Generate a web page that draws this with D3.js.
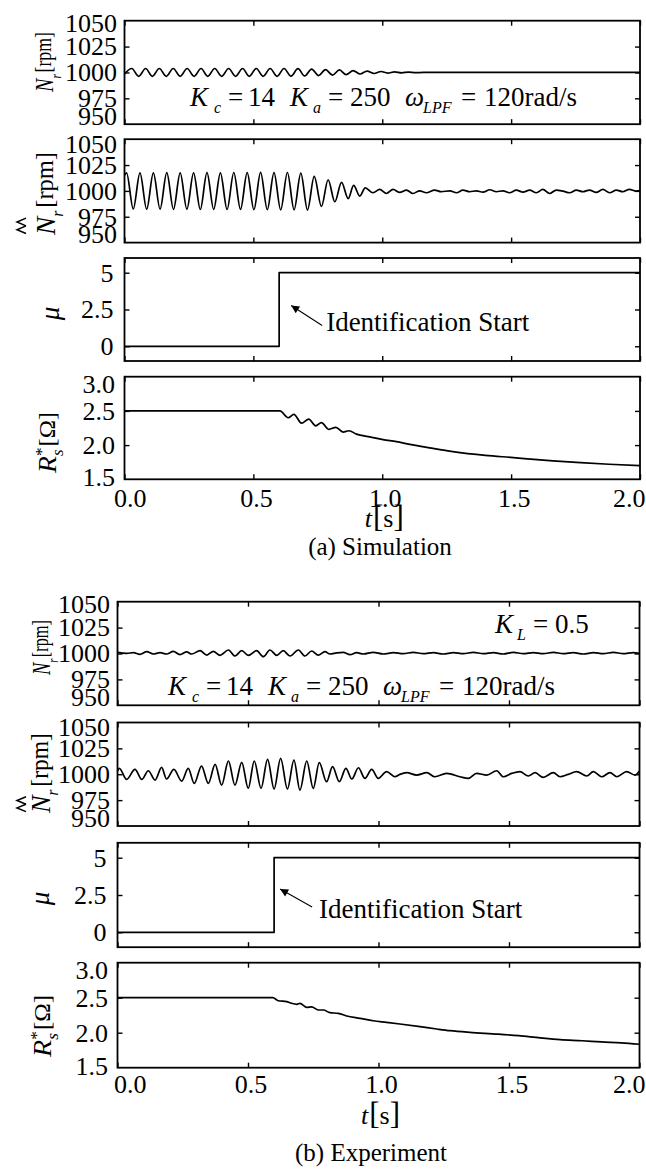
<!DOCTYPE html>
<html>
<head>
<meta charset="utf-8">
<script src="https://cdn.jsdelivr.net/npm/d3@7"></script>
<style>
  html, body { margin: 0; padding: 0; background: #fff; }
  svg, svg text { font-family: 'Liberation Serif', 'Times New Roman', Times, serif; }
  svg { display: block; }
</style>
</head>
<body>
<svg id="fig" width="646" height="1169" font-family="Liberation Serif, Times New Roman, serif"></svg>
<script>
// ---------- axis ticks ----------
const timeTicks = [0, 0.5, 1.0, 1.5, 2.0];
const timeTickLabels = ["0.0", "0.5", "1.0", "1.5", "2.0"];
const speedTicks = [950, 975, 1000, 1025, 1050];
const speedTickLabels = ["950", "975", "1000", "1025", "1050"];
const muTicks = [0, 2.5, 5];
const muTickLabels = ["0", "2.5", "5"];
const resTicks = [1.5, 2.0, 2.5, 3.0];
const resTickLabels = ["1.5", "2.0", "2.5", "3.0"];
const identStart = 0.6;

// ---------- (a) simulation ----------
// rotor speed N_r [rpm], [t, value]
const simSpeed = [[0.000,998.5],[0.028,1003.8],[0.055,996.3],[0.082,1003.8],[0.108,996.3],[0.135,1003.8],[0.162,996.3],[0.189,1003.8],[0.216,996.3],[0.243,1003.8],[0.270,996.3],[0.297,1003.8],[0.323,996.3],[0.350,1003.8],[0.377,996.3],[0.404,1003.8],[0.431,996.3],[0.458,1003.8],[0.484,996.3],[0.511,1003.8],[0.538,996.3],[0.565,1003.8],[0.592,996.3],[0.619,1003.8],[0.646,996.4],[0.673,1003.6],[0.699,996.6],[0.726,1003.3],[0.753,997.0],[0.780,1002.8],[0.807,997.4],[0.834,1002.4],[0.860,997.9],[0.887,1001.8],[0.914,998.5],[0.941,1001.3],[0.968,999.0],[0.995,1000.9],[1.021,999.4],[1.048,1000.6],[1.075,999.6],[1.102,1000.4],[1.129,999.8],[1.160,1000.0],[2.000,1000.0]];
// estimated speed
const simSpeedEst = [[0.000,1015.0],[0.008,1017.5],[0.034,982.5],[0.060,1017.5],[0.086,982.3],[0.112,1017.4],[0.138,982.4],[0.164,1017.6],[0.190,982.2],[0.216,1017.5],[0.242,982.3],[0.268,1017.4],[0.294,982.0],[0.320,1017.6],[0.346,982.2],[0.372,1017.5],[0.398,982.0],[0.424,1017.8],[0.450,982.1],[0.476,1017.6],[0.502,981.8],[0.528,1017.9],[0.554,981.9],[0.580,1017.7],[0.606,981.6],[0.632,1017.8],[0.658,981.7],[0.684,1017.2],[0.710,981.5],[0.736,1014.0],[0.764,985.0],[0.790,1010.8],[0.816,989.5],[0.842,1008.2],[0.868,992.6],[0.889,1005.4],[0.913,995.0],[0.934,1003.0],[0.964,998.2],[0.990,1001.4],[1.016,997.5],[1.042,1001.4],[1.068,998.5],[1.094,1000.8],[1.119,997.5],[1.145,1000.1],[1.171,998.2],[1.203,1000.8],[1.229,999.2],[1.262,1000.1],[1.288,998.2],[1.313,1000.8],[1.339,999.2],[1.365,1000.1],[1.391,998.8],[1.417,1001.1],[1.443,999.2],[1.468,1000.1],[1.494,998.2],[1.520,1000.8],[1.546,998.8],[1.572,1000.8],[1.598,998.2],[1.623,1001.4],[1.649,997.5],[1.675,1000.8],[1.701,999.8],[1.727,998.2],[1.753,1000.8],[1.778,999.2],[1.804,1000.8],[1.830,998.5],[1.856,1001.4],[1.882,998.2],[1.908,1000.8],[1.933,999.2],[1.959,1001.4],[1.985,999.8],[2.000,1000.3]];
// identification gain mu
const simMu = [[0,0],[0.6,0],[0.6,5],[2.0,5]];
// identified stator resistance R_s* [ohm]
const simRes = [[0,2.5],[0.603,2.5],[0.635,2.40],[0.657,2.45],[0.687,2.32],[0.715,2.38],[0.742,2.28],[0.764,2.33],[0.793,2.23],[0.820,2.26],[0.848,2.19],[0.871,2.21],[0.900,2.16],[0.952,2.12],[1.003,2.08],[1.055,2.05],[1.107,2.01],[1.145,1.985],[1.184,1.96],[1.274,1.905],[1.400,1.85],[1.498,1.82],[1.662,1.77],[1.880,1.72],[2.000,1.70]];

// ---------- (b) experiment ----------
const expSpeed = [[0.000,1001.1],[0.035,1000.2],[0.061,1000.8],[0.086,999.2],[0.112,1001.8],[0.137,999.5],[0.163,1000.8],[0.188,999.5],[0.214,1002.1],[0.239,998.9],[0.265,1001.5],[0.284,999.5],[0.316,1002.7],[0.342,998.5],[0.367,1002.1],[0.393,998.2],[0.425,1003.4],[0.450,997.6],[0.476,1002.7],[0.501,998.2],[0.533,1002.7],[0.559,996.9],[0.584,1003.4],[0.610,998.2],[0.635,1002.7],[0.661,997.6],[0.693,1003.4],[0.718,997.6],[0.744,1002.4],[0.769,998.5],[0.795,1001.8],[0.814,999.5],[0.840,1000.6],[0.865,1001.1],[0.891,998.9],[0.916,1000.8],[0.942,999.5],[0.980,1001.1],[1.018,999.5],[1.057,1000.8],[1.095,999.8],[1.133,1001.1],[1.172,999.8],[1.210,1000.8],[1.248,999.5],[1.287,1000.8],[1.325,999.8],[1.363,1001.1],[1.402,999.8],[1.440,1000.8],[1.478,999.5],[1.517,1001.1],[1.555,999.8],[1.593,1000.8],[1.631,999.8],[1.670,1001.1],[1.708,999.8],[1.746,1000.8],[1.785,999.5],[1.823,1000.8],[1.861,999.8],[1.900,1001.1],[1.938,999.8],[1.976,1000.8],[2.000,1000.2]];
const expSpeedEst = [[0.000,1003.0],[0.007,1005.7],[0.035,995.0],[0.067,1004.7],[0.093,995.0],[0.118,1003.4],[0.144,994.4],[0.169,1006.6],[0.188,995.4],[0.216,1004.7],[0.246,993.4],[0.271,1005.7],[0.294,991.2],[0.322,1007.9],[0.348,991.2],[0.374,1009.5],[0.399,989.5],[0.425,1012.8],[0.450,989.5],[0.476,1011.5],[0.501,986.3],[0.524,1012.8],[0.550,986.3],[0.575,1014.4],[0.600,985.7],[0.625,1015.4],[0.651,985.7],[0.676,1013.7],[0.699,984.7],[0.725,1012.8],[0.750,986.3],[0.773,1011.2],[0.801,992.8],[0.824,1007.3],[0.850,992.8],[0.875,1005.7],[0.898,995.4],[0.923,1006.3],[0.948,996.0],[0.974,1004.7],[0.999,996.0],[1.031,1002.5],[1.063,997.6],[1.082,999.9],[1.108,1001.5],[1.146,999.2],[1.185,1001.5],[1.216,997.6],[1.261,1000.8],[1.312,997.6],[1.344,996.0],[1.376,1000.8],[1.415,999.2],[1.453,1003.4],[1.478,997.6],[1.510,1000.8],[1.542,1002.5],[1.574,998.3],[1.600,1001.5],[1.631,997.0],[1.670,1001.5],[1.695,997.6],[1.727,999.9],[1.759,1002.5],[1.798,998.3],[1.823,1002.5],[1.855,997.6],[1.887,1001.5],[1.913,997.6],[1.951,1002.5],[1.983,999.2],[2.000,1003.1]];
const expMu = [[0,0],[0.6,0],[0.6,5],[2.0,5]];
const expRes = [[0,2.5],[0.595,2.5],[0.616,2.457],[0.648,2.443],[0.667,2.42],[0.687,2.406],[0.699,2.42],[0.725,2.363],[0.744,2.37],[0.769,2.324],[0.789,2.324],[0.814,2.286],[0.846,2.277],[0.878,2.239],[0.929,2.205],[0.980,2.171],[1.031,2.148],[1.082,2.124],[1.159,2.086],[1.223,2.053],[1.274,2.029],[1.350,2.005],[1.458,1.98],[1.537,1.957],[1.620,1.925],[1.696,1.90],[1.780,1.885],[1.855,1.868],[1.930,1.855],[2.000,1.835]];

// ---------- drawing ----------
const SERIF = 'Liberation Serif, Times New Roman, serif';
const svg = d3.select('#fig');
const defs = svg.append('defs');
defs.append('marker')
  .attr('id', 'arrowHead').attr('viewBox', '0 0 10 10')
  .attr('refX', 10).attr('refY', 5)
  .attr('markerWidth', 11).attr('markerHeight', 8)
  .attr('markerUnits', 'userSpaceOnUse').attr('orient', 'auto')
  .append('path').attr('d', 'M0,0 L10,5 L0,10 Z').attr('fill', '#000');

// rotated titles: pieces with their own sizes; sub/sup offsets in px
const titleSmall = [
  { t: 'N', fs: 26, it: true, main: true },
  { t: 'r', fs: 15, it: true, dy: 8 },
  { t: '[rpm]', fs: 23, dx: 2, dy: -2 }
];
const titleLarge = [
  { t: 'N', fs: 28, it: true, main: true },
  { t: 'r', fs: 16, it: true, dy: 8 },
  { t: '[rpm]', fs: 25, dx: 3, dy: -2 }
];
const titleRes = [
  { t: 'R', fs: 26, it: true },
  { t: '*', fs: 16, dy: -9 },
  { t: 's', fs: 16, it: true, dy: 7, stack: true },
  { t: '[\u03A9]', fs: 23, dx: 1, dy: -1 }
];

const charts = [
  {
    left: 124.5, right: 640,
    panels: [[20.7, 124.2], [139.2, 242.6], [258, 361], [376.7, 479.3]],
    series: [simSpeed, simSpeedEst, simMu, simRes],
    tickBase: 506.5, tBase: 527, caption: "(a) Simulation", captionX: 380, captionY: 555,
    ylab: [
      { bx: 53, y0: 92, len: 60, segs: titleSmall },
      { bx: 55, y0: 235, len: 83, segs: titleLarge, hat: [-38, -29] },
      { bx: 59, yc: 313.5 },
      { bx: 56, y0: 473, len: 61, segs: titleRes }
    ],
    annot: { x0: 190, y: 106 }, gainL: null,
    arrow: { hx: 12, hy: -4, tx: 31, ty: 20, textX: 47, textY: 21 }
  },
  {
    left: 117.5, right: 639.5,
    panels: [[601.7, 705.3], [722.5, 826], [842.8, 947.2], [962.7, 1067.7]],
    series: [expSpeed, expSpeedEst, expMu, expRes],
    tickBase: 1093, tBase: 1124, caption: "(b) Experiment", captionX: 371, captionY: 1161,
    ylab: [
      { bx: 50, y0: 675, len: 55, segs: titleSmall },
      { bx: 50, y0: 813, len: 80, segs: titleLarge, hat: [-33, -24] },
      { bx: 49, yc: 898.5 },
      { bx: 51, y0: 1057, len: 62, segs: titleRes }
    ],
    annot: { x0: 168, y: 695 }, gainL: { x: 495, y: 633 },
    arrow: { hx: 6, hy: -6, tx: 32, ty: 18, textX: 45, textY: 23 }
  }
];

const panelDefs = [
  { dom: [950, 1050], ticks: speedTicks, labels: speedTickLabels, smooth: true, lx: 7.5, clamp: [2, 8] },
  { dom: [950, 1050], ticks: speedTicks, labels: speedTickLabels, smooth: true, lx: 7.5, clamp: [5, 8] },
  { dom: [-1, 6], ticks: muTicks, labels: muTickLabels, smooth: false, lx: 11, clamp: null },
  { dom: [1.5, 3.0], ticks: resTicks, labels: resTickLabels, smooth: true, lx: 9.5, clamp: [7, 2] }
];

const TICK_FS = 26;

function txt(parent) {
  return parent.append('text').attr('font-family', SERIF).attr('fill', '#000');
}

function styleAxis(sel) {
  sel.select('.domain').remove();
  sel.selectAll('.tick line').attr('stroke', '#000').attr('stroke-width', 1.4);
  sel.selectAll('.tick text').remove();
}

// rotated axis title built from pieces, fitted to a given length
function yTitle(g, spec) {
  const gl = g.append('g');
  let cx = 0, prevX = 0, nX0 = 0, nW = 0;
  spec.segs.forEach(s => {
    const x = s.stack ? prevX : cx + (s.dx || 0);
    const t = txt(gl)
      .attr('x', x).attr('y', s.dy || 0)
      .attr('font-size', s.fs)
      .attr('font-style', s.it ? 'italic' : 'normal')
      .text(s.t);
    const w = t.node().getComputedTextLength();
    if (s.main) { nX0 = x; nW = w; }
    prevX = x;
    cx = Math.max(cx, x + w);
  });
  if (spec.hat) {
    const [yTop, yBase] = spec.hat;
    [[0.08, 0.5], [0.5, 0.92]].forEach(([a, b]) => {
      const x0 = nX0 + nW * a, x1 = nX0 + nW * b;
      gl.append('path')
        .attr('d', `M${x0},${yBase} L${(x0 + x1) / 2},${yTop} L${x1},${yBase}`)
        .attr('fill', 'none').attr('stroke', '#000').attr('stroke-width', 1.5)
        .attr('vector-effect', 'non-scaling-stroke');
    });
  }
  const k = spec.len / cx;
  gl.attr('transform', `translate(${spec.bx},${spec.y0}) rotate(-90) scale(${k},1)`);
}

function drawChart(cfg) {
  const g = svg.append('g');
  const x = d3.scaleLinear().domain([0, 2]).range([cfg.left, cfg.right]);
  const yScales = [];

  panelDefs.forEach((p, i) => {
    const [top, bot] = cfg.panels[i];
    const y = d3.scaleLinear().domain(p.dom).range([bot, top]);
    yScales.push(y);
    const inner = p.ticks.filter(v => v > p.dom[0] && v < p.dom[1]);

    g.append('g').attr('transform', `translate(0,${bot})`)
      .call(d3.axisBottom(x).tickValues(timeTicks).tickSize(-5)).call(styleAxis);
    g.append('g').attr('transform', `translate(0,${top})`)
      .call(d3.axisTop(x).tickValues(timeTicks).tickSize(-5)).call(styleAxis);
    g.append('g').attr('transform', `translate(${cfg.left},0)`)
      .call(d3.axisLeft(y).tickValues(inner).tickSize(-5)).call(styleAxis);
    g.append('g').attr('transform', `translate(${cfg.right},0)`)
      .call(d3.axisRight(y).tickValues(inner).tickSize(-5)).call(styleAxis);

    const line = d3.line().x(d => x(d[0])).y(d => y(d[1]))
      .curve(p.smooth ? d3.curveMonotoneX : d3.curveLinear);
    g.append('path').datum(cfg.series[i])
      .attr('d', line).attr('fill', 'none')
      .attr('stroke', '#000').attr('stroke-width', 1.7)
      .attr('stroke-linejoin', 'round');

    g.append('rect')
      .attr('x', cfg.left).attr('y', top)
      .attr('width', cfg.right - cfg.left).attr('height', bot - top)
      .attr('fill', 'none').attr('stroke', '#000').attr('stroke-width', 1.8);

    // value labels on the left
    p.ticks.forEach((v, j) => {
      let c = y(v);
      if (p.clamp) c = Math.max(top + p.clamp[0], Math.min(bot - p.clamp[1], c));
      txt(g)
        .attr('x', cfg.left - p.lx).attr('y', c + TICK_FS * 0.34)
        .attr('text-anchor', 'end').attr('font-size', TICK_FS)
        .text(p.labels[j]);
    });

    // axis titles
    const spec = cfg.ylab[i];
    if (spec.segs) {
      yTitle(g, spec);
    } else {
      txt(g)
        .attr('transform', `translate(${spec.bx},${spec.yc}) rotate(-90)`)
        .attr('text-anchor', 'middle').attr('font-size', 27)
        .attr('font-style', 'italic').text('\u03BC');
    }
  });

  // time labels below the last panel
  timeTicks.forEach((t, j) => {
    const lab = txt(g)
      .attr('y', cfg.tickBase).attr('text-anchor', 'middle')
      .attr('font-size', TICK_FS).text(timeTickLabels[j]);
    const w = lab.node().getComputedTextLength();
    const cx = Math.max(114 + w / 2, Math.min(645.5 - w / 2, x(t) + 3));
    lab.attr('x', cx);
  });

  // t [s]
  const tl = txt(g)
    .attr('x', (cfg.left + cfg.right) / 2 + 2).attr('y', cfg.tBase)
    .attr('text-anchor', 'middle').attr('font-size', 26);
  tl.append('tspan').attr('font-style', 'italic').text('t');
  tl.append('tspan').attr('font-size', 31).attr('dx', 1).text('[');
  tl.append('tspan').text('s');
  tl.append('tspan').attr('font-size', 31).text(']');

  // caption
  txt(g)
    .attr('x', cfg.captionX).attr('y', cfg.captionY)
    .attr('text-anchor', 'middle').attr('font-size', 25)
    .text(cfg.caption);

  // controller gains
  const a = cfg.annot;
  const ann = (dx, str, opts = {}) => txt(g)
    .attr('x', a.x0 + dx).attr('y', a.y + (opts.sub ? 7 : 0))
    .attr('font-size', opts.sub ? 16 : 27)
    .attr('font-style', opts.it ? 'italic' : 'normal')
    .text(str);
  ann(0, 'K', { it: true });
  ann(24, 'c', { it: true, sub: true });
  ann(38, '=');
  ann(58, '14');
  ann(100, 'K', { it: true });
  ann(123, 'a', { it: true, sub: true });
  ann(138, '=');
  ann(160, '250');
  ann(215, '\u03C9', { it: true });
  ann(233, 'LPF', { it: true, sub: true });
  ann(271, '=');
  ann(294, '120rad/s');

  if (cfg.gainL) {
    const L = cfg.gainL;
    txt(g).attr('x', L.x).attr('y', L.y).attr('font-size', 27)
      .attr('font-style', 'italic').text('K');
    txt(g).attr('x', L.x + 22).attr('y', L.y + 7).attr('font-size', 16)
      .attr('font-style', 'italic').text('L');
    txt(g).attr('x', L.x + 38).attr('y', L.y).attr('font-size', 27).text('=');
    txt(g).attr('x', L.x + 60).attr('y', L.y).attr('font-size', 27).text('0.5');
  }

  // identification start marker
  const yMu = yScales[2];
  const ar = cfg.arrow;
  const hx = x(identStart) + ar.hx, hy = yMu(2.5) + ar.hy;
  g.append('line')
    .attr('x1', hx + ar.tx).attr('y1', hy + ar.ty)
    .attr('x2', hx).attr('y2', hy)
    .attr('stroke', '#000').attr('stroke-width', 1.1)
    .attr('marker-end', 'url(#arrowHead)');
  txt(g)
    .attr('x', x(identStart) + ar.textX).attr('y', yMu(2.5) + ar.textY)
    .attr('font-size', 27).text('Identification Start');
}

charts.forEach(drawChart);
</script>
</body>
</html>
